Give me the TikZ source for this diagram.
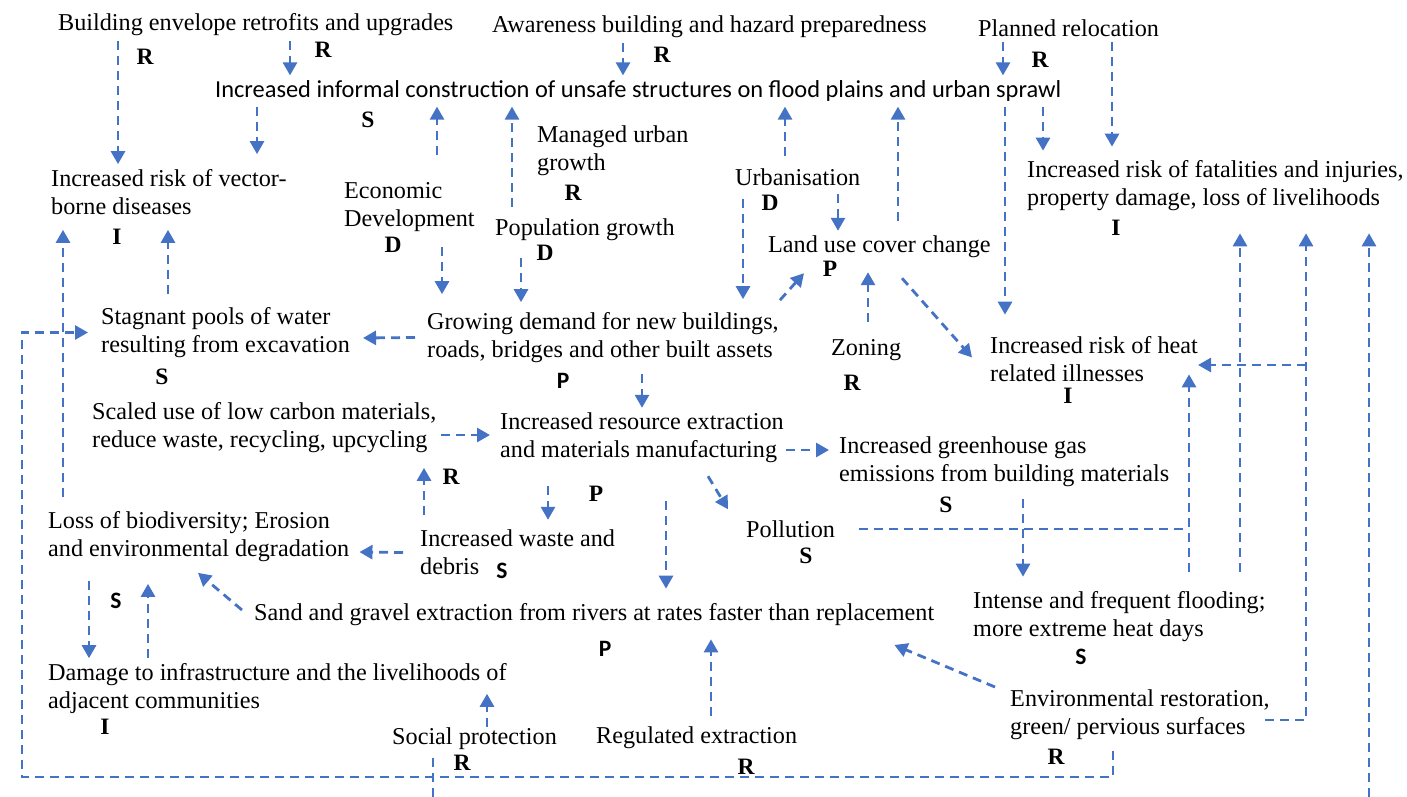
\documentclass[tikz,border=0pt]{standalone}
\usepackage{fontspec}
\setmainfont{Liberation Serif}
\newfontfamily\calibrifont{Carlito}
\usetikzlibrary{arrows.meta}
\definecolor{ablue}{HTML}{4472C4}
\tikzset{
 txt/.style={anchor=west, inner xsep=0pt, inner ysep=5pt, align=left, font=\fontsize{24.2}{28}\selectfont},
 sanstxt/.style={anchor=west, inner xsep=0pt, inner ysep=5pt, align=left, font=\fontsize{24.4}{28}\calibrifont},
 lab/.style={inner sep=0pt, font=\fontsize{23.5}{26}\selectfont\bfseries},
 labs/.style={inner sep=0pt, font=\fontsize{23.5}{26}\calibrifont\bfseries},
 dline/.style={draw=ablue, line width=2.8pt, dash pattern=on 9pt off 6pt},
 arr/.style={dline, -{Triangle[length=13pt,width=14pt]}},
}
\begin{document}
\begin{tikzpicture}[x=1pt,y=-1pt]
\useasboundingbox (0,0) rectangle (1407,797);
% ---- text nodes
\node[txt] (bld) at (58,25) {Building envelope retrofits and upgrades};
\node[txt] (awr) at (492,27) {Awareness building and hazard preparedness};
\node[txt] (rel) at (978,28) {Planned relocation};
\node[sanstxt] (inf) at (215,91) {Increased informal construction of unsafe structures on flood plains and urban sprawl};
\node[txt] (mug) at (537,151) {Managed urban\\growth};
\node[txt] (vec) at (51,192) {Increased risk of vector-\\borne diseases};
\node[txt] (eco) at (344,207.5) {Economic\\Development};
\node[txt] (urb) at (735,177) {Urbanisation};
\node[txt] (fat) at (1027,186) {Increased risk of fatalities and injuries,\\property damage, loss of livelihoods};
\node[txt] (pop) at (495,230) {Population growth};
\node[txt] (luc) at (768,247) {Land use cover change};
\node[txt] (stg) at (101,332.5) {Stagnant pools of water\\resulting from excavation};
\node[txt] (gro) at (427,337.5) {Growing demand for new buildings,\\roads, bridges and other built assets};
\node[txt] (zon) at (831,350) {Zoning};
\node[txt] (heat) at (990,359.5) {Increased risk of heat\\related illnesses};
\node[txt] (scl) at (92,427.5) {Scaled use of low carbon materials,\\reduce waste, recycling, upcycling};
\node[txt] (res) at (500,438) {Increased resource extraction\\and materials manufacturing};
\node[txt] (ghg) at (839,461.5) {Increased greenhouse gas\\emissions from building materials};
\node[txt] (pol) at (746,529) {Pollution};
\node[txt] (los) at (48,536.5) {Loss of biodiversity; Erosion\\and environmental degradation};
\node[txt] (wst) at (420,552.5) {Increased waste and\\debris};
\node[txt] (snd) at (254,615) {Sand and gravel extraction from rivers at rates faster than replacement};
\node[txt] (fld) at (973,617) {Intense and frequent flooding;\\more extreme heat days};
\node[txt] (dmg) at (48,688.5) {Damage to infrastructure and the livelihoods of\\adjacent communities};
\node[txt] (env) at (1010,714.5) {Environmental restoration,\\green/ pervious surfaces};
\node[txt] (soc) at (392,739) {Social protection};
\node[txt] (reg) at (596,738) {Regulated extraction};
% ---- letter labels
\node[lab] (l1) at (145,57) {R};
\node[lab] (l2) at (323,50) {R};
\node[lab] (l3) at (662,55) {R};
\node[lab] (l4) at (1040,60) {R};
\node[lab] (l5) at (368,120) {S};
\node[lab] (l6) at (573,193) {R};
\node[lab] (l7) at (117,237) {I};
\node[lab] (l8) at (393,245) {D};
\node[lab] (l9) at (770,203) {D};
\node[lab] (l10) at (1116,228) {I};
\node[lab] (l11) at (545,253) {D};
\node[lab] (l12) at (830,269) {P};
\node[lab] (l13) at (162,377) {S};
\node[labs] (l14) at (563,381) {P};
\node[lab] (l15) at (852,383) {R};
\node[lab] (l16) at (1068,396) {I};
\node[lab] (l17) at (596,494) {P};
\node[lab] (l18) at (451,477) {R};
\node[lab] (l19) at (946,505) {S};
\node[lab] (l20) at (806,556) {S};
\node[labs] (l21) at (502,571) {S};
\node[labs] (l22) at (116,601) {S};
\node[labs] (l23) at (605,649) {P};
\node[labs] (l24) at (1081,657) {S};
\node[lab] (l25) at (105,727) {I};
\node[lab] (l26) at (1056,757) {R};
\node[lab] (l27) at (462,763) {R};
\node[lab] (l28) at (746,767) {R};
% ---- free coordinates
\coordinate (lpBL) at (22,777);
\coordinate (j1) at (1306,365);
\coordinate (socdn) at (433,797);
\coordinate (fatup) at (1369,797);
% ---- connectors
\draw[arr] (bld.south -| 118,0) -- (vec.north -| 118,0);
\draw[arr] (bld.south -| 290,0) -- (inf.north -| 290,0);
\draw[arr] (inf.south -| 257,0) -- ([yshift=10pt]vec.north -| 257,0);
\draw[arr] (awr.south -| 623,0) -- (inf.north -| 623,0);
\draw[arr] (rel.south -| 1003,0) -- (inf.north -| 1003,0);
\draw[arr] (rel.south -| 1112,0) -- ([yshift=9pt]fat.north -| 1112,0);
\draw[arr] (inf.south -| 1043,0) -- ([yshift=5pt]fat.north -| 1043,0);
\draw[arr] (inf.south -| 1005,0) -- ([yshift=17pt]heat.north -| 1005,0);
\draw[arr] ([yshift=23pt]eco.north -| 437,0) -- (inf.south -| 437,0);
\draw[arr] ([yshift=7pt]pop.north -| 512,0) -- (inf.south -| 512,0);
\draw[arr] ([yshift=7pt]urb.north -| 785,0) -- (inf.south -| 785,0);
\draw[arr] ([yshift=10pt]luc.north -| 898,0) -- (inf.south -| 898,0);
\draw[arr] ([yshift=-10pt]eco.south -| 442,0) -- ([yshift=13pt]gro.north -| 442,0);
\draw[arr] ([yshift=-12pt]pop.south -| 521,0) -- ([yshift=5pt]gro.north -| 521,0);
\draw[arr] ([yshift=-8pt]urb.south -| 743,0) -- ([yshift=8pt]gro.north -| 743,0);
\draw[arr] ([yshift=-3pt]urb.south -| 838,0) -- (luc.north -| 838,0);
\draw[arr] ([xshift=1pt,yshift=7pt]gro.north east) -- ([xshift=36pt,yshift=-10pt]luc.south west);
\draw[arr] ([yshift=12pt]zon.north -| 868,0) -- ([yshift=-9pt]luc.south -| 868,0);
\draw[arr] ([yshift=-15pt]luc.south -| 902,0) -- ([xshift=-18pt,yshift=2pt]heat.west);
\draw[arr] ([xshift=-12pt]gro.west) -- ([xshift=13pt,yshift=-5.5pt]stg.east);
\draw[arr] ([yshift=-6pt]gro.south -| 642,0) -- (res.north -| 642,0);
\draw[arr] ([xshift=5pt,yshift=-7.5pt]scl.east) -- ([xshift=-10pt,yshift=3pt]res.west);
\draw[arr] ([xshift=2pt,yshift=-12pt]res.east) -- ([xshift=-10pt,yshift=11.5pt]ghg.west);
\draw[arr] ([yshift=-8pt]res.south -| 708,0) -- ([yshift=6pt]pol.north -| 728,0);
\draw[arr] ([yshift=-18pt]res.south -| 548,0) -- ([yshift=5pt]wst.north -| 548,0);
\draw[arr] ([yshift=10pt]wst.north -| 424,0) -- ([yshift=-10pt]scl.south -| 424,0);
\draw[arr] ([xshift=-17pt]wst.west) -- ([xshift=10pt,yshift=-15.5pt]los.east);
\draw[arr] ([yshift=-33pt]res.south -| 666,0) -- ([yshift=10pt]snd.north -| 666,0);
\draw[arr] ([xshift=-12pt,yshift=5pt]snd.west) -- ([yshift=-6pt]los.south -| 198,0);
\draw[arr] ([yshift=-14pt]los.south -| 89,0) -- (dmg.north -| 89,0);
\draw[arr] (dmg.north -| 148,0) -- ([yshift=-17pt]los.south -| 148,0);
\draw[arr] ([yshift=9pt]los.north -| 63,0) -- ([yshift=-10pt]vec.south -| 63,0);
\draw[arr] ([yshift=8pt]stg.north -| 168,0) -- ([yshift=-10pt]vec.south -| 168,0);
\draw[arr] ([yshift=-6pt]env.south -| 1113,0) |- (lpBL) |- ([xshift=-13pt]stg.west);
\draw[arr] ([yshift=-4pt]soc.north -| 487,0) -- ([yshift=25pt]dmg.south -| 487,0);
\draw[arr] ([yshift=6pt]reg.north -| 711,0) -- ([yshift=-8pt]snd.south -| 711,0);
\draw[arr] ([xshift=-15pt,yshift=27.5pt]env.west) -- ([xshift=-40pt,yshift=-30pt]snd.east);
\draw[arr] ([yshift=-7pt]ghg.south -| 1023,0) -- ([yshift=10pt]fld.north -| 1023,0);
\draw[dline] ([xshift=24pt]pol.east) -- (pol.east -| 1189,0);
\draw[arr] ([yshift=15pt]fld.north -| 1189,0) -- ([yshift=13pt]heat.south -| 1189,0);
\draw[arr] ([yshift=15pt]fld.north -| 1240,0) -- ([yshift=-17pt]fat.south -| 1240,0);
\draw[arr] ([xshift=-5pt,yshift=-5.5pt]env.east) -| ([yshift=-17pt]fat.south -| 1306,0);
\draw[arr] (j1) -- (heat.east |- j1);
\draw[dline] ([yshift=-3pt]soc.south -| 433,0) -- (socdn);
\draw[arr] (fatup) -- ([yshift=-17pt]fat.south -| 1369,0);
\end{tikzpicture}
\end{document}
